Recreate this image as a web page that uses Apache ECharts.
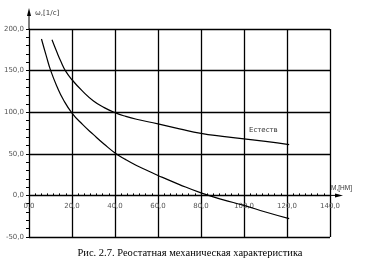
<!DOCTYPE html>
<html><head><meta charset="utf-8">
<script src="https://cdn.jsdelivr.net/npm/echarts@6/dist/echarts.min.js"></script>
<style>html,body{margin:0;padding:0;background:#fff}#c{width:366px;height:260px}</style>
</head><body><div id="c"></div>
<script>
const xTicks = [0, 20, 40, 60, 80, 100, 120, 140];
const yTicks = [-50, 0, 50, 100, 150, 200];
const naturalM = [10.7, 13, 15, 16.9, 20, 25, 30, 35, 40, 45, 50, 60, 70, 80, 90, 100, 110, 121];
const naturalW = [187, 172, 160, 150, 139, 125, 113.5, 105.5, 99.5, 95, 91.5, 86, 80, 74.5, 71, 68, 65, 61];
const rheoM = [5.8, 8, 10.1, 13, 16, 20, 25, 30, 35, 40, 45, 50, 55, 60, 70, 80, 90, 100, 110, 121];
const rheoW = [188, 168, 150, 131, 115, 99, 85, 73, 61.5, 51, 43, 36, 30, 24, 13, 3, -5, -12, -20, -28];
const seriesName = 'Естеств';
const yTitle = 'ω,[1/с]';
const xTitle = 'M,[HM]';
const caption = 'Рис. 2.7. Реостатная механическая характеристика';

const fmt = v => v.toFixed(1).replace('.', ',');
const chart = echarts.init(document.getElementById('c'), null, {renderer: 'canvas'});
const pairs = (a, b) => a.map((m, i) => [m, b[i]]);
const option = {
  animation: false,
  grid: {left: 29, right: 36, top: 29, bottom: 23, containLabel: false},
  xAxis: {
    type: 'value', position: 'bottom', min: xTicks[0], max: xTicks[xTicks.length - 1], interval: 20,
    axisLine: {onZero: false, lineStyle: {color: '#000', width: 1}},
    axisTick: {show: true, length: 3, inside: true, lineStyle: {color: '#000'}},
    minorTick: {show: true, splitNumber: 7, length: 2, lineStyle: {color: '#000'}},
    axisLabel: {formatter: fmt, fontSize: 7, color: '#555', margin: 7, fontFamily: 'DejaVu Sans'},
    splitLine: {show: true, lineStyle: {color: '#000', width: 1.3}}
  },
  yAxis: {
    type: 'value', min: yTicks[0], max: yTicks[yTicks.length - 1], interval: 50,
    axisLine: {onZero: false, lineStyle: {color: '#000', width: 1}},
    axisTick: {show: true, length: 3, lineStyle: {color: '#000'}},
    minorTick: {show: true, splitNumber: 5, length: 3, lineStyle: {color: '#000'}},
    axisLabel: {formatter: fmt, fontSize: 7, color: '#555', margin: 5, fontFamily: 'DejaVu Sans'},
    splitLine: {show: true, lineStyle: {color: '#000', width: 1.3}}
  },
  series: [
    {name: seriesName, type: 'line', smooth: 0.5, showSymbol: false, data: pairs(naturalM, naturalW),
     lineStyle: {color: '#000', width: 1.2}},
    {name: 'rheo', type: 'line', smooth: 0.5, showSymbol: false, data: pairs(rheoM, rheoW),
     lineStyle: {color: '#000', width: 1.2}}
  ]
};
chart.setOption(option);

const p0 = chart.convertToPixel({gridIndex: 0}, [0, 0]);
const pMin = chart.convertToPixel({gridIndex: 0}, [0, yTicks[0]]);
const pTop = chart.convertToPixel({gridIndex: 0}, [0, 200]);
const pRight = chart.convertToPixel({gridIndex: 0}, [140, 0]);
const pLab = chart.convertToPixel({gridIndex: 0}, [109, 78]);
chart.setOption({
  xAxis: {offset: -(pMin[1] - p0[1])},
  graphic: [
    {type: 'line', shape: {x1: p0[0], y1: pTop[1], x2: p0[0], y2: pTop[1] - 16}, style: {stroke: '#000', lineWidth: 1}},
    {type: 'polygon', shape: {points: [[p0[0], pTop[1] - 21], [p0[0] - 2, pTop[1] - 13], [p0[0] + 2, pTop[1] - 13]]}, style: {fill: '#000'}},
    {type: 'line', shape: {x1: pRight[0], y1: p0[1], x2: pRight[0] + 9, y2: p0[1]}, style: {stroke: '#000', lineWidth: 1}},
    {type: 'polygon', shape: {points: [[pRight[0] + 13, p0[1]], [pRight[0] + 5, p0[1] - 2], [pRight[0] + 5, p0[1] + 2]]}, style: {fill: '#000'}},
    {type: 'text', x: p0[0] + 6, y: pTop[1] - 16, style: {text: yTitle, fontSize: 7, fill: '#333', fontFamily: 'DejaVu Sans', textVerticalAlign: 'middle'}},
    {type: 'text', x: pRight[0] + 1, y: p0[1] - 7, style: {text: xTitle, fontSize: 6.5, fill: '#333', fontFamily: 'Liberation Sans', textVerticalAlign: 'middle'}},
    {type: 'text', x: pLab[0], y: pLab[1], style: {text: seriesName, fontSize: 7, fill: '#333', fontFamily: 'DejaVu Sans', textAlign: 'center', textVerticalAlign: 'middle'}},
    {type: 'text', x: 190, y: 253, style: {text: caption, fontSize: 10.5, fill: '#000', fontFamily: 'Liberation Serif', textAlign: 'center', textVerticalAlign: 'middle'}}
  ]
});
</script></body></html>
